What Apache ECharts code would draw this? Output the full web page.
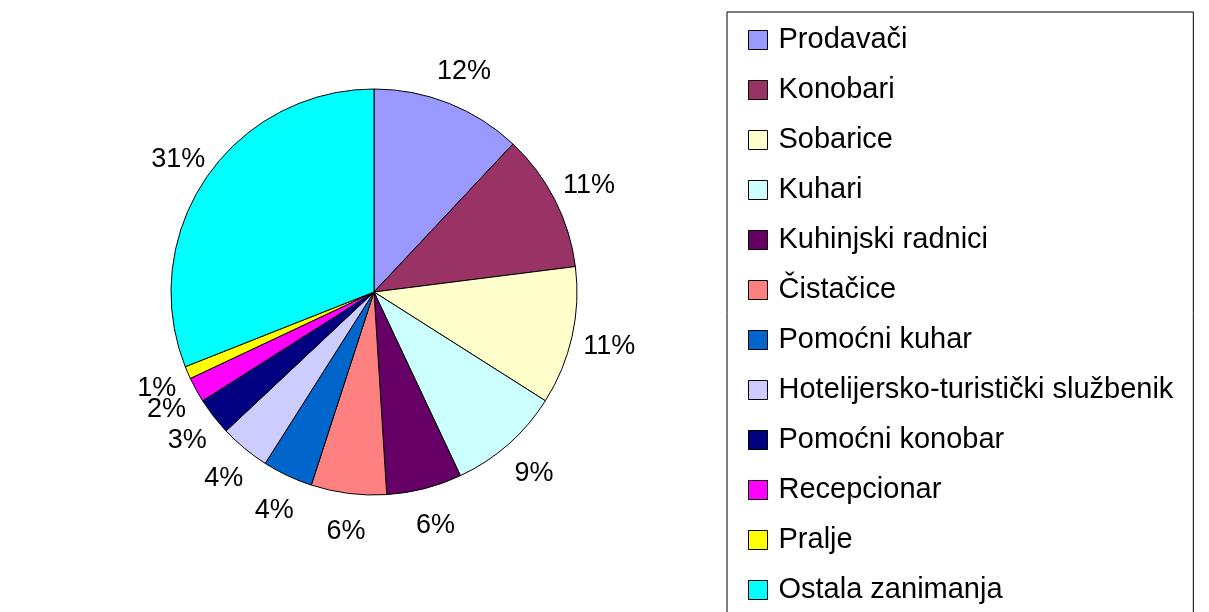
<!DOCTYPE html>
<html>
<head>
<meta charset="utf-8">
<style>
  html, body { margin: 0; padding: 0; background: #fff; }
  #main { width: 1209px; height: 612px; }
</style>
<script src="https://cdn.jsdelivr.net/npm/echarts@6/dist/echarts.min.js"></script>
</head>
<body>
<div id="main"></div>
<script>
// zanimanja i udjeli (%)
var categories = ['Prodavači', 'Konobari', 'Sobarice', 'Kuhari', 'Kuhinjski radnici', 'Čistačice',
  'Pomoćni kuhar', 'Hotelijersko-turistički službenik', 'Pomoćni konobar', 'Recepcionar', 'Pralje', 'Ostala zanimanja'];
var values = [12, 11, 11, 9, 6, 6, 4, 4, 3, 2, 1, 31];
var colors = ['#9999FF', '#993366', '#FFFFCC', '#CCFFFF', '#660066', '#FF8080',
  '#0066CC', '#CCCCFF', '#000080', '#FF00FF', '#FFFF00', '#00FFFF'];

var font = "'Liberation Sans', Arial, sans-serif";

function buildData() {
  var data = [];
  for (var i = 0; i < categories.length; i++) {
    data.push({ name: categories[i], value: values[i] });
  }
  return data;
}

var myChart = echarts.init(document.getElementById('main'));
myChart.setOption({
  backgroundColor: '#fff',
  animation: false,
  color: colors,
  legend: {
    orient: 'vertical',
    left: 727,
    top: 12,
    height: 610,
    padding: [13, 20, 30, 21],
    borderColor: '#000',
    borderWidth: 1,
    itemWidth: 19,
    itemHeight: 19,
    itemGap: 20,
    icon: 'rect',
    itemStyle: { borderColor: '#000', borderWidth: 1 },
    textStyle: {
      fontFamily: font,
      fontSize: 29,
      lineHeight: 30,
      color: '#000',
      padding: [0, 0, 0, 6]
    },
    data: categories
  },
  series: [{
    name: 'udio',
    type: 'pie',
    center: [374, 292],
    radius: 203,
    startAngle: 90,
    clockwise: true,
    silent: true,
    itemStyle: { borderColor: '#000', borderWidth: 1 },
    label: { show: false },
    labelLine: { show: false },
    data: buildData()
  }, {
    // prsten samo za oznake postotaka
    name: 'oznake',
    type: 'pie',
    center: [376, 294],
    radius: [226, 246],
    startAngle: 90,
    clockwise: true,
    silent: true,
    minShowLabelAngle: 0,
    labelLayout: { hideOverlap: false },
    itemStyle: { color: 'rgba(0,0,0,0)', borderWidth: 0 },
    label: {
      show: true,
      position: 'inside',
      formatter: '{c}%',
      fontFamily: font,
      fontSize: 27,
      lineHeight: 20,
      color: '#000'
    },
    labelLine: { show: false },
    data: buildData()
  }]
});
</script>
</body>
</html>
